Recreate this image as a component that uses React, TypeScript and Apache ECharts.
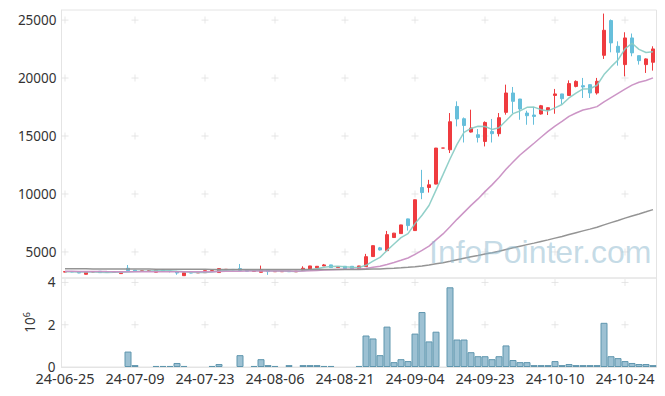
import React, { useEffect, useRef } from "react";
import * as echarts from "echarts";

const dates = [
  "24-06-25","24-06-26","24-06-27","24-06-28","24-07-01","24-07-02","24-07-03","24-07-04","24-07-05","24-07-08",
  "24-07-09","24-07-10","24-07-11","24-07-12","24-07-15","24-07-16","24-07-17","24-07-18","24-07-19","24-07-22",
  "24-07-23","24-07-24","24-07-25","24-07-26","24-07-29","24-07-30","24-07-31","24-08-01","24-08-02","24-08-05",
  "24-08-06","24-08-07","24-08-08","24-08-09","24-08-12","24-08-13","24-08-14","24-08-16","24-08-19","24-08-20",
  "24-08-21","24-08-22","24-08-23","24-08-26","24-08-27","24-08-28","24-08-29","24-08-30","24-09-02","24-09-03",
  "24-09-04","24-09-05","24-09-06","24-09-09","24-09-10","24-09-11","24-09-12","24-09-13","24-09-19","24-09-20",
  "24-09-23","24-09-24","24-09-25","24-09-26","24-09-27","24-09-30","24-10-02","24-10-04","24-10-07","24-10-08",
  "24-10-10","24-10-11","24-10-14","24-10-15","24-10-16","24-10-17","24-10-18","24-10-21","24-10-22","24-10-23",
  "24-10-24","24-10-25","24-10-28","24-10-29","24-10-30"
];

const opens = [
  3260,3300,3290,3070,3270,3330,3260,3230,3130,3590,
  3420,3360,3350,3250,3440,3340,3320,2950,3200,3190,
  3210,3380,3220,3480,3490,3560,3420,3320,3240,3460,
  3290,3290,3340,3280,3400,3530,3620,3790,3880,3650,
  3760,3760,3560,3730,4600,5350,5110,6240,6580,7850,
  6840,10560,10560,10850,13960,13810,17550,16490,15340,15110,
  14530,15390,15200,17040,18710,18190,16980,16810,16900,17240,
  18500,18630,18500,19280,19340,19430,18710,21960,24960,22740,
  21160,23460,21930,21160,21360
];
const closes = [
  3300,3270,3180,3270,3280,3210,3230,3260,3300,3380,
  3350,3370,3380,3440,3330,3330,3180,3210,3180,3220,
  3380,3390,3560,3500,3450,3400,3330,3340,3470,3300,
  3310,3320,3290,3340,3590,3790,3760,3880,3650,3720,
  3560,3560,3790,4590,5540,5170,6490,6620,7330,7270,
  9500,10120,10790,13960,13960,16230,16470,15910,15690,14880,
  16170,15200,16580,18710,17990,17330,16750,16690,17610,17440,
  18630,18220,19520,19710,19230,18710,19720,24120,23030,22220,
  23460,22170,21500,21650,22510
];
const lows = [
  3240,3250,3170,3060,3250,3200,3210,3220,3120,3300,
  3320,3340,3340,3240,3310,3230,3030,2950,3160,3180,
  3200,3360,3210,3460,3430,3380,3310,3300,3220,3020,
  3280,3270,3280,3270,3390,3520,3610,3780,3640,3630,
  3550,3540,3540,3700,4580,5120,5100,6200,6560,6840,
  6820,9550,10120,10830,13960,13530,15830,14440,15300,14440,
  14100,14440,14960,16840,16980,16400,15970,15970,16850,16810,
  16920,17760,18460,19200,18280,18280,18570,21650,22220,21070,
  20150,21880,21160,20440,20640
];
const highs = [
  3320,3310,3300,3290,3300,3340,3270,3270,3310,3870,
  3440,3380,3390,3480,3450,3350,3330,3220,3230,3240,
  3390,3400,3600,3520,3500,3960,3430,3350,3820,3470,
  3320,3330,3350,3350,3760,3800,3780,3960,3890,3730,
  3770,3770,3800,4830,5560,5430,6810,6640,7340,7870,
  9520,12080,11220,13970,13960,16980,17990,16600,17270,15600,
  16260,16470,16980,19430,19230,18200,17180,17500,17680,17460,
  19060,18640,19800,19800,20010,19450,20010,25560,25050,23170,
  23950,23840,21950,21700,22740
];

// volume in units of 10^6 shares (0 = bar too small to see)
const volumes = [
  0,0,0,0,0,0,0,0,0,0.73,
  0.09,0,0,0.05,0.05,0.05,0.19,0.05,0,0,
  0,0.05,0.14,0,0,0.56,0,0.05,0.37,0.09,
  0.05,0,0.09,0,0.09,0.09,0.09,0.05,0.05,0,
  0,0,0.05,1.49,1.35,0.56,1.91,0.23,0.37,0.28,
  1.58,2.6,1.21,1.67,0,3.77,1.3,1.3,0.7,0.51,
  0.51,0.37,0.51,1.02,0.33,0.23,0.23,0.09,0.09,0.09,
  0.28,0.09,0.14,0.09,0.09,0.09,0.09,2.09,0.51,0.42,
  0.28,0.19,0.14,0.14,0.09
];

const ma5 = [
  3290,3285,3265,3260,3260,3242,3234,3250,3256,3276,
  3304,3332,3356,3384,3374,3370,3332,3298,3246,3224,
  3234,3276,3346,3410,3456,3460,3448,3404,3398,3368,
  3350,3348,3338,3312,3370,3466,3554,3672,3734,3760,
  3714,3674,3656,3844,4208,4530,5116,5682,6230,6576,
  7442,8168,9002,10328,11666,13012,14282,15306,15652,15836,
  15824,15570,15704,16308,16930,17162,17472,17494,17274,17164,
  17424,17718,18284,18704,19062,19078,19378,20298,20962,21560,
  22510,22998,22474,22200,22258
];
const ma20 = [
  3330,3325,3320,3315,3310,3305,3300,3298,3296,3295,
  3294,3293,3292,3292,3290,3289,3287,3286,3285,3284,
  3288,3294,3313,3324,3333,3342,3347,3351,3360,3356,
  3354,3351,3347,3342,3355,3378,3407,3440,3464,3489,
  3498,3506,3518,3572,3677,3765,3923,4087,4280,4479,
  4788,5128,5503,6034,6553,7175,7810,8412,9014,9572,
  10202,10784,11424,12130,12752,13360,13873,14377,14891,15399,
  15856,16261,16697,16985,17248,17372,17535,17945,18312,18679,
  19044,19392,19638,19785,20011
];
const ma100 = [
  3548,3545,3541,3538,3536,3532,3529,3526,3524,3522,
  3520,3518,3516,3515,3513,3511,3507,3504,3500,3497,
  3495,3493,3494,3493,3492,3491,3488,3486,3485,3483,
  3481,3478,3476,3474,3474,3476,3478,3482,3483,3484,
  3485,3485,3487,3497,3517,3534,3563,3594,3631,3669,
  3728,3794,3866,3970,4074,4201,4330,4454,4575,4689,
  4815,4931,5062,5213,5358,5496,5628,5759,5900,6038,
  6189,6336,6496,6657,6814,6966,7127,7333,7528,7715,
  7914,8100,8279,8460,8650
];

const priceTicks = [5000, 10000, 15000, 20000, 25000];
const volTicks = [2, 4];
const markCats = [0, 10, 20, 30, 40, 50, 60, 70, 80];

const UP = "#ef3b3f";
const DOWN = "#67bfdb";
const FONT = "Noto Sans";

export default function App() {
  const ref = useRef<HTMLDivElement>(null);
  useEffect(() => {
    if (!ref.current) return;
    const chart = echarts.init(ref.current, null, { renderer: "svg" });
    const candle = dates.map((_, i) => [opens[i], closes[i], lows[i], highs[i]]);
    const volData = volumes.map((v) => (v > 0 ? v : "-"));
    const priceMarks: any[] = [];
    markCats.forEach((c) => priceTicks.forEach((t) => priceMarks.push([c, t])));
    const volMarks: any[] = [];
    markCats.forEach((c) => volTicks.forEach((t) => volMarks.push([c, t])));
    const markColor = "#e0e0e0";
    chart.setOption({
      animation: false,
      textStyle: { fontFamily: FONT },
      grid: [
        { left: 61.5, width: 595, top: 10, height: 268, show: true, borderColor: "#e4e4e4", borderWidth: 1, backgroundColor: "transparent" },
        { left: 61.5, width: 595, top: 278, height: 89, show: true, borderColor: "#e4e4e4", borderWidth: 1, backgroundColor: "transparent" },
      ],
      xAxis: [
        {
          type: "category", gridIndex: 0, data: dates, boundaryGap: true,
          axisLine: { show: false }, axisTick: { show: false }, axisLabel: { show: false }, splitLine: { show: false },
        },
        {
          type: "category", gridIndex: 1, data: dates, boundaryGap: true,
          axisLine: { show: true, lineStyle: { color: "#e4e4e4" } }, axisTick: { show: false },
          axisLabel: { interval: 9, color: "#333", fontSize: 14.5, lineHeight: 11, margin: 5, fontFamily: FONT },
          splitLine: { show: false },
        },
      ],
      yAxis: [
        {
          type: "value", gridIndex: 0, min: 2750, max: 25870, splitNumber: 5,
          axisLine: { show: true, lineStyle: { color: "#e4e4e4" } }, axisTick: { show: false },
          axisLabel: { color: "#333", fontSize: 13.5, margin: 5, showMinLabel: false, showMaxLabel: false, fontFamily: FONT, formatter: (v: number) => String(v) },
          splitLine: { show: false },
        },
        {
          type: "value", gridIndex: 1, min: 0, max: 4.21, interval: 2,
          axisLine: { show: true, lineStyle: { color: "#e4e4e4" } }, axisTick: { show: false },
          axisLabel: { color: "#333", fontSize: 13.5, lineHeight: 10, margin: 6, showMaxLabel: false, fontFamily: FONT },
          splitLine: { show: false },
          name: "10{s|6}", nameLocation: "middle", nameGap: 24, nameRotate: 90,
          nameTextStyle: { color: "#333", fontSize: 13.5, fontFamily: FONT, rich: { s: { fontSize: 9, fontFamily: FONT, color: "#333", verticalAlign: "top", padding: [0, 0, 7, 0] } } },
        },
      ],
      graphic: [
        {
          type: "text", left: 429, top: 236, z: 100, silent: true,
          style: { text: "InfoPointer.com", font: '32px "Liberation Sans"', fill: "rgba(140,184,206,0.5)" },
        },
      ],
      series: [
        {
          type: "scatter", xAxisIndex: 0, yAxisIndex: 0, data: priceMarks, symbol: "rect", symbolSize: [7, 1], silent: true,
          itemStyle: { color: markColor }, z: 0,
        },
        {
          type: "scatter", xAxisIndex: 0, yAxisIndex: 0, data: priceMarks, symbol: "rect", symbolSize: [1, 7], silent: true,
          itemStyle: { color: markColor }, z: 0,
        },
        {
          type: "scatter", xAxisIndex: 1, yAxisIndex: 1, data: volMarks, symbol: "rect", symbolSize: [7, 1], silent: true,
          itemStyle: { color: markColor }, z: 0,
        },
        {
          type: "scatter", xAxisIndex: 1, yAxisIndex: 1, data: volMarks, symbol: "rect", symbolSize: [1, 7], silent: true,
          itemStyle: { color: markColor }, z: 0,
        },
        {
          type: "candlestick", xAxisIndex: 0, yAxisIndex: 0, data: candle, barWidth: 4,
          itemStyle: { color: UP, color0: DOWN, borderColor: UP, borderColor0: DOWN, borderWidth: 1 },
          z: 2,
        },
        {
          type: "line", xAxisIndex: 0, yAxisIndex: 0, data: ma5, showSymbol: false, symbol: "none",
          lineStyle: { color: "#86cbc3", width: 1.5, opacity: 0.9 }, z: 3,
        },
        {
          type: "line", xAxisIndex: 0, yAxisIndex: 0, data: ma20, showSymbol: false, symbol: "none",
          lineStyle: { color: "#c98fc3", width: 1.5, opacity: 0.95 }, z: 3,
        },
        {
          type: "line", xAxisIndex: 0, yAxisIndex: 0, data: ma100, showSymbol: false, symbol: "none",
          lineStyle: { color: "#8e8e8e", width: 1.5, opacity: 0.95 }, z: 3,
        },
        {
          type: "bar", xAxisIndex: 1, yAxisIndex: 1, data: volData, barCategoryGap: "0%",
          itemStyle: { color: "rgba(124,172,196,0.75)", borderColor: "#5f96ae", borderWidth: 1 },
          z: 2,
        },
      ],
    });
    return () => chart.dispose();
  }, []);
  return <div ref={ref} style={{ position: "absolute", left: 0, top: 0, width: 665, height: 396 }} />;
}
